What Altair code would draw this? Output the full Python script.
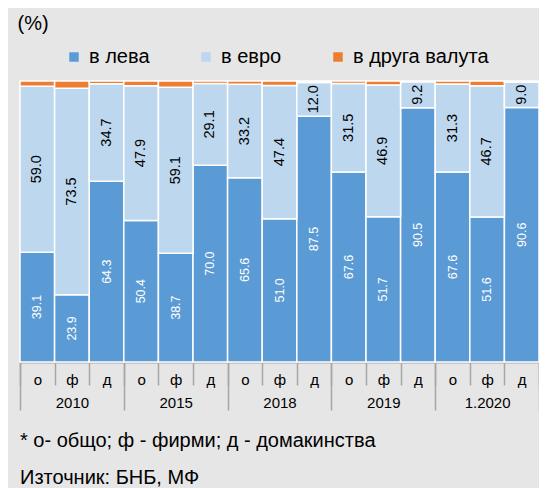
import altair as alt
import pandas as pd

groups = ["2010", "2015", "2018", "2019", "1.2020"]
subs = ["о", "ф", "д"]
series = ["в лева", "в евро", "в друга валута"]
colors = ["#5b9bd5", "#bdd7ee", "#ed7d31"]

leva = [39.1, 23.9, 64.3, 50.4, 38.7, 70.0, 65.6, 51.0, 87.5, 67.6, 51.7, 90.5, 67.6, 51.6, 90.6]
evro = [59.0, 73.5, 34.7, 47.9, 59.1, 29.1, 33.2, 47.4, 12.0, 31.5, 46.9, 9.2, 31.3, 46.7, 9.0]
other = [1.9, 2.6, 1.0, 1.7, 2.2, 0.9, 1.2, 1.6, 0.5, 0.9, 1.4, 0.3, 1.1, 1.7, 0.4]

keys = [f"{g}|{s}" for g in groups for s in subs]
rows = []
for i, k in enumerate(keys):
    for j, (name, vals) in enumerate(zip(series, [leva, evro, other])):
        rows.append({"key": k, "group": k.split("|")[0], "series": name, "k": j, "value": vals[i]})
df = pd.DataFrame(rows)

FONT = "Liberation Sans"
GRAY = "#a6a6a6"

base = alt.Chart(df).transform_stack(
    stack="value", groupby=["key"], sort=[alt.SortField("k", order="ascending")], as_=["y0", "y1"]
).transform_calculate(mid="(datum.y0 + datum.y1) / 2")

xenc = alt.X(
    "key:N",
    sort=keys,
    scale=alt.Scale(paddingInner=0, paddingOuter=0),
    axis=alt.Axis(
        title=None,
        orient="bottom",
        labelExpr="split(datum.label, '|')[1]",
        tickBand="extent",
        tickSize=23,
        tickColor=GRAY,
        tickWidth=1.5,
        domainColor=GRAY,
        domainWidth=2,
        labelFontSize=15,
        labelFont=FONT,
        labelColor="#000000",
        labelAngle=0,
        labelPadding=-13,
        grid=False,
    ),
)

yscale = alt.Scale(domain=[0, 100], nice=False, zero=True)

bars = base.mark_bar(stroke="white", strokeWidth=1.5).encode(
    x=xenc,
    y=alt.Y(
        "y0:Q",
        scale=yscale,
        axis=alt.Axis(
            title="(%)", titleAngle=0, titleAlign="left", titleBaseline="middle",
            titleX=-3, titleY=-58, titleFontSize=20, titleFontWeight="normal",
            titleFont=FONT, titleColor="#000000",
            labels=False, ticks=False, domain=False, grid=False,
        ),
    ),
    y2="y1:Q",
    color=alt.Color(
        "series:N",
        scale=alt.Scale(domain=series, range=colors),
        legend=alt.Legend(
            title=None, orient="none", direction="horizontal",
            legendX=44, legendY=-34, symbolType="square", symbolSize=90,
            symbolStrokeWidth=0, symbolOpacity=1, labelFontSize=20, labelFont=FONT,
            labelColor="#000000", columnPadding=46, labelOffset=5,
        ),
    ),
    order=alt.Order("k:Q"),
)

lbl_white = base.transform_filter("datum.k == 0").mark_text(
    angle=270, fontSize=12.5, font=FONT, color="white", baseline="middle", align="center"
).encode(x=alt.X("key:N", sort=keys), y=alt.Y("mid:Q", scale=yscale), text=alt.Text("value:Q", format=".1f"))

lbl_black = base.transform_filter("datum.k == 1").mark_text(
    angle=270, fontSize=14.5, font=FONT, color="#000000", baseline="middle", align="center"
).encode(x=alt.X("key:N", sort=keys), y=alt.Y("mid:Q", scale=yscale), text=alt.Text("value:Q", format=".1f"))

main = alt.layer(bars, lbl_white, lbl_black)

grp = alt.Chart(pd.DataFrame({"group": groups})).mark_bar(opacity=0).encode(
    x=alt.X(
        "group:N",
        sort=groups,
        scale=alt.Scale(paddingInner=0, paddingOuter=0),
        axis=alt.Axis(
            title=None, orient="bottom", tickBand="extent", tickSize=48,
            tickColor=GRAY, tickWidth=1.5, domain=False, labelFontSize=15,
            labelFont=FONT, labelColor="#000000", labelAngle=0, labelPadding=-15,
            grid=False,
        ),
    )
)

chart = alt.layer(main, grp).resolve_scale(x="independent").properties(
    width=519,
    height=281,
    background="#e7e6e6",
    padding={"left": 12, "top": 73, "right": 0, "bottom": 126},
    autosize=alt.AutoSizeParams(type="none"),
    title=alt.TitleParams(
        text="* о- общо; ф - фирми; д - домакинства",
        subtitle="Източник: БНБ, МФ",
        orient="bottom", anchor="start", frame="group",
        fontSize=20, fontWeight="normal", font=FONT, color="#000000",
        subtitleFontSize=20, subtitleFont=FONT, subtitleColor="#000000",
        subtitlePadding=17, offset=20,
    ),
).configure_view(stroke=None)

chart.save("out.html", embed_options={"renderer": "svg", "actions": False})
